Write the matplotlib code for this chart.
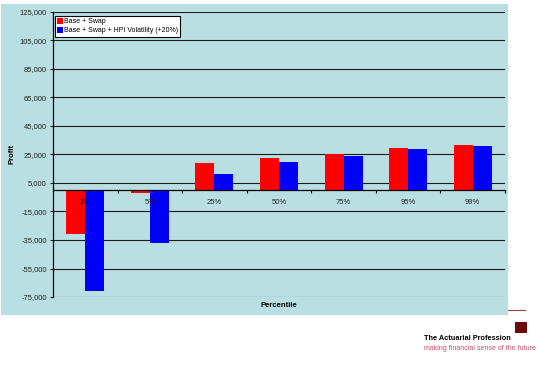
import matplotlib.pyplot as plt
import numpy as np
from matplotlib.patches import Rectangle
from matplotlib.lines import Line2D
from matplotlib.ticker import FuncFormatter, FixedLocator

plt.rcParams['font.family'] = ['Liberation Sans', 'DejaVu Sans']

percentiles = ['1%', '5%', '25%', '50%', '75%', '95%', '99%']
base_swap = [-31000, -2000, 19000, 22500, 25500, 29500, 31500]
base_swap_hpi = [-71000, -37000, 11000, 20000, 24000, 28800, 31300]
y_ticks = [125000, 105000, 85000, 65000, 45000, 25000, 5000,
           -15000, -35000, -55000, -75000]

W, H = 541, 367
fig = plt.figure(figsize=(W / 100, H / 100), dpi=100)

# light blue chart area
fig.patches.append(Rectangle((1 / W, 1 - 315 / H), 507 / W, 311 / H,
                             transform=fig.transFigure, facecolor='#BADFE2',
                             edgecolor='none', zorder=-10))

ax = fig.add_axes([53 / W, 1 - 297 / H, 452 / W, 285 / H])
ax.set_zorder(2)
ax.set_facecolor('none')

x = np.arange(len(percentiles))
bw = 0.295
ax.bar(x - bw / 2, base_swap, bw, color='#FF0000', label='Base + Swap', zorder=3)
ax.bar(x + bw / 2, base_swap_hpi, bw, color='#0000FF',
       label='Base + Swap + HPI Volatility (+20%)', zorder=3)

ax.set_ylim(-75000, 125000)
ax.set_xlim(-0.5, len(percentiles) - 0.5)
ax.yaxis.set_major_locator(FixedLocator(y_ticks))
ax.yaxis.set_major_formatter(FuncFormatter(lambda v, p: f'{int(v):,}'))
ax.grid(axis='y', color='#1a1a1a', linewidth=0.8, zorder=1)
ax.tick_params(axis='y', labelsize=5.5, length=2.5, width=0.8, pad=2,
               colors='#222222')

# x axis on the zero line, ticks between categories, labels over the bars
ax.spines['bottom'].set_position(('data', 0))
ax.spines['bottom'].set_zorder(4)
ax.xaxis.set_zorder(5)
for s in ['top', 'right']:
    ax.spines[s].set_visible(False)
ax.spines['left'].set_linewidth(0.9)
ax.spines['bottom'].set_linewidth(0.9)
ax.set_xticks(x + 0.5)
ax.set_xticklabels([])
ax.set_xticks(x, minor=True)
ax.set_xticklabels(percentiles, minor=True)
ax.tick_params(axis='x', which='major', length=2.5, width=0.8, direction='out')
ax.tick_params(axis='x', which='minor', length=0, labelsize=5.5, pad=6.5,
               colors='#222222')

fig.text(12 / W, 1 - 154 / H, 'Profit', rotation=90, fontsize=5.5,
         fontweight='bold', ha='center', va='center')
fig.text(279 / W, 1 - 305.5 / H, 'Percentile', fontsize=5.5,
         fontweight='bold', ha='center', va='center')

leg = ax.legend(loc='upper left', bbox_to_anchor=(0.004, 0.987),
                borderaxespad=0, fontsize=5.0, fancybox=False,
                edgecolor='black', framealpha=1, handlelength=0.9,
                handleheight=0.9, handletextpad=0.15, borderpad=0.3,
                labelspacing=0.3)
leg.get_frame().set_linewidth(0.8)

# footer branding
fig.add_artist(Line2D([508 / W, 525 / W], [1 - 310 / H, 1 - 310 / H],
                      color='#A04040', linewidth=0.8))
fig.patches.append(Rectangle((515 / W, 1 - 333 / H), 12 / W, 11 / H,
                             transform=fig.transFigure, facecolor='#6B0A0A',
                             edgecolor='none'))
fig.text(424 / W, 1 - 338 / H, 'The Actuarial Profession', fontsize=5.3,
         fontweight='bold', ha='left', va='center')
fig.text(424 / W, 1 - 349 / H, 'making financial sense of the future',
         fontsize=5.0, color='#C0506A', ha='left', va='center')

fig.savefig('out.png', dpi=100)
